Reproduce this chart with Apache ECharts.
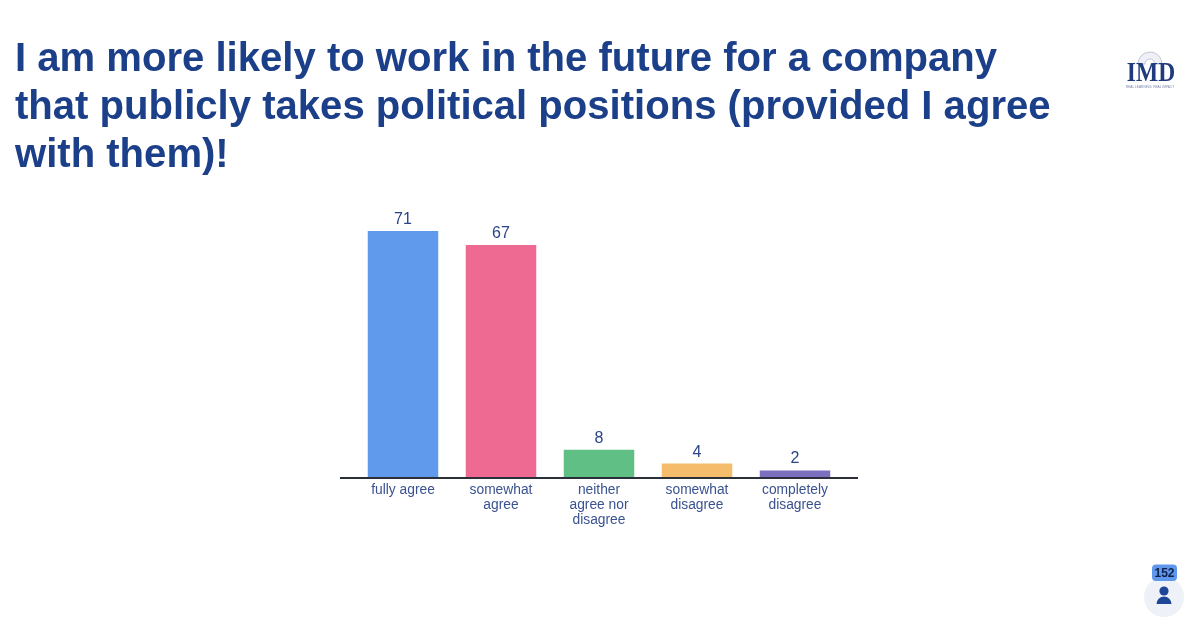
<!DOCTYPE html>
<html><head><meta charset="utf-8">
<style>html,body{margin:0;padding:0;background:#fff}#c{width:1200px;height:621px}</style>
<script src="https://cdn.jsdelivr.net/npm/echarts@6/dist/echarts.min.js"></script>
</head><body><div id="c"></div>
<script>
const titleLines = ["I am more likely to work in the future for a company","that publicly takes political positions (provided I agree","with them)!"];
const categories = ["fully agree","somewhat\nagree","neither\nagree nor\ndisagree","somewhat\ndisagree","completely\ndisagree"];
const values = [71,67,8,4,2];
const barColors = ["#5f9aec","#ee6a93","#5fbf84","#f5bd6b","#7b6fc0"];
const responseCount = "152";
const navy = "#1c3f8a";
const chart = echarts.init(document.getElementById('c'),null,{renderer:'canvas'});
chart.setOption({
  animation:false,
  backgroundColor:'#fff',
  title:{text:titleLines.join("\n"),left:15,top:36,padding:0,
    textStyle:{color:navy,fontFamily:'Liberation Sans',fontWeight:'bold',fontSize:40.1,lineHeight:48}},
  grid:{left:354,width:490,top:231,height:246.5},
  xAxis:{type:'category',data:categories,
    axisLine:{show:false},axisTick:{show:false},
    axisLabel:{color:'#3a5290',fontFamily:'Liberation Sans',fontSize:13.8,lineHeight:15,margin:5,interval:0}},
  yAxis:{type:'value',min:0,max:71,show:false,splitLine:{show:false}},
  series:[{type:'bar',barWidth:70.5,
    data:values.map((v,i)=>({value:v,itemStyle:{color:barColors[i]}})),
    label:{show:true,position:'top',distance:3.5,color:'#2a4488',fontFamily:'Liberation Sans',fontSize:16}}],
  graphic:[
    {type:'line',shape:{x1:340,y1:478,x2:858,y2:478},style:{stroke:'#2b2f3a',lineWidth:2},z:10},
    // logo
    {type:'sector',shape:{cx:1150,cy:64,r:12,r0:5,startAngle:Math.PI,endAngle:2*Math.PI},style:{fill:'#eef0f6',stroke:'#b4bbd0',lineWidth:0.8}},
    {type:'text',x:1151,y:74.5,scaleX:0.87,style:{x:0,y:0,text:'IMD',align:'center',verticalAlign:'middle',fill:'#1f3a7d',font:'bold 27px "Liberation Serif"'}},
    {type:'text',style:{x:1150,y:87.5,text:'REAL LEARNING. REAL IMPACT',align:'center',verticalAlign:'middle',fill:'#7a86a8',font:'3.2px "Liberation Sans"'}},
    // participant badge
    {type:'circle',shape:{cx:1164,cy:597,r:20},style:{fill:'#eef1f8'}},
    {type:'rect',shape:{x:1152,y:564.5,width:25,height:16.5,r:4},style:{fill:'#5f97ea'}},
    {type:'text',style:{x:1164.5,y:573.5,text:responseCount,align:'center',verticalAlign:'middle',fill:'#10204a',font:'bold 12px "Liberation Sans"'}},
    {type:'circle',shape:{cx:1164,cy:591,r:4.6},style:{fill:'#1f4596'}},
    {type:'sector',shape:{cx:1164,cy:604,r:7.5,r0:0,startAngle:Math.PI,endAngle:2*Math.PI},style:{fill:'#1f4596'}}
  ]
});
</script></body></html>
